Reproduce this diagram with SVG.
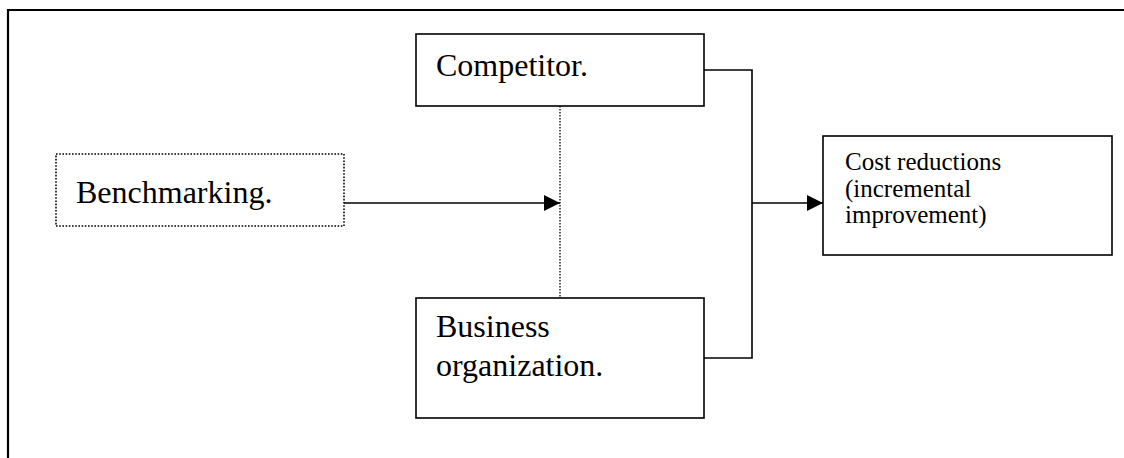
<svg xmlns="http://www.w3.org/2000/svg" width="1124" height="458" viewBox="0 0 1124 458">
  <defs>
    <style>
      .box { fill: #fff; stroke: #000; stroke-width: 1.6; }
      .dotted { fill: #fff; stroke: #000; stroke-width: 1.6; stroke-dasharray: 1.6 1.6; }
      .wire { fill: none; stroke: #000; stroke-width: 1.6; }
      .dot-wire { fill: none; stroke: #000; stroke-width: 1.3; stroke-dasharray: 1.5 1.5; }
      .lbl { font-family: "Liberation Serif", "Times New Roman", serif; font-size: 32px; fill: #000; }
      .lbl-sm { font-family: "Liberation Serif", "Times New Roman", serif; font-size: 25px; fill: #000; }
    </style>
    <marker id="arrow" viewBox="0 0 16 16" refX="16" refY="8" markerWidth="16" markerHeight="16" markerUnits="userSpaceOnUse" orient="auto">
      <path d="M0,0 L16,8 L0,16 Z" fill="#000"/>
    </marker>
  </defs>

  <rect width="1124" height="458" fill="#fff"/>

  <!-- outer frame, running off the right and bottom edges -->
  <path d="M8,470 L8,10 L1130,10" fill="none" stroke="#000" stroke-width="2.2"/>

  <g id="connectors">
    <!-- Benchmarking to the dotted link between the two sources -->
    <line class="wire" x1="344" y1="203" x2="560" y2="203" marker-end="url(#arrow)"/>
    <line class="dot-wire" x1="560" y1="106" x2="560" y2="298"/>
    <!-- both sources merge into the result -->
    <polyline class="wire" points="704,70 752,70 752,358 704,358"/>
    <line class="wire" x1="752" y1="203" x2="823" y2="203" marker-end="url(#arrow)"/>
  </g>

  <g id="benchmarking">
    <rect class="dotted" x="56" y="154" width="288" height="72"/>
    <text class="lbl" x="76" y="203">Benchmarking.</text>
  </g>

  <g id="competitor">
    <rect class="box" x="416" y="34" width="288" height="72"/>
    <text class="lbl" x="436" y="76">Competitor.</text>
  </g>

  <g id="business-organization">
    <rect class="box" x="416" y="298" width="288" height="120"/>
    <text class="lbl" x="436" y="337">Business</text>
    <text class="lbl" x="436" y="376">organization.</text>
  </g>

  <g id="cost-reductions">
    <rect class="box" x="823" y="136" width="289" height="119"/>
    <text class="lbl-sm" x="845" y="170">Cost reductions</text>
    <text class="lbl-sm" x="845" y="197">(incremental</text>
    <text class="lbl-sm" x="845" y="223">improvement)</text>
  </g>
</svg>
